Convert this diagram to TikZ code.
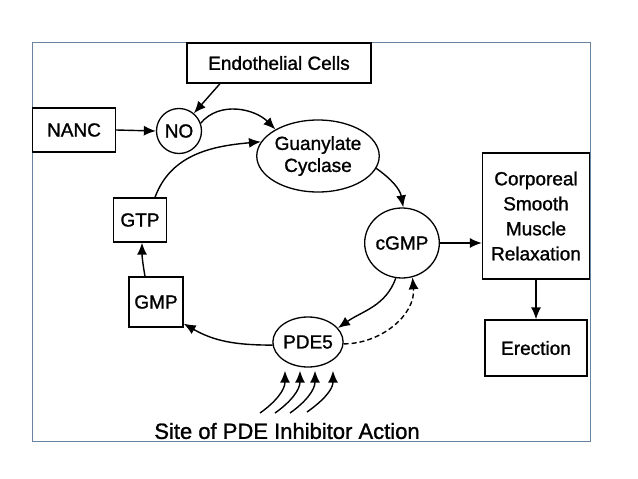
\documentclass[tikz,border=0pt]{standalone}
\usepackage{fontspec}
\setmainfont{Liberation Sans}[BoldFont=Liberation Sans, BoldFeatures={FakeBold=1.2}]
\usetikzlibrary{arrows.meta,shapes.geometric}
\definecolor{framecol}{RGB}{104,132,160}
\begin{document}
\begin{tikzpicture}[x=1pt,y=1pt,
  every node/.style={font=\fontsize{19}{22}\selectfont\bfseries, inner sep=0pt, align=center},
  rectbox/.style={draw, rectangle, line width=1.3pt},
  circnode/.style={draw, circle, line width=1.3pt},
  ellnode/.style={draw, ellipse, line width=1.3pt},
  arr/.style={line width=1.4pt, -{Latex[length=12pt,width=10pt]}},
  dasharr/.style={arr, dash pattern=on 5pt off 3pt}
]
\useasboundingbox (0,0) rectangle (638,-479);
\fill[white] (0,0) rectangle (638,-479);
\draw[framecol, line width=1pt] (32,-42) rectangle (590,-441);

\node[rectbox, minimum width=184, minimum height=40] (endo) at (279,-63) {Endothelial Cells};
\node[rectbox, minimum width=83, minimum height=44] (nanc) at (74,-130) {NANC};
\node[circnode, minimum size=45] (no) at (179,-131) {NO};
\node[ellnode, minimum width=110, minimum height=72] (gc) at (318,-156) {Guanylate\\Cyclase};
\node[rectbox, minimum width=53, minimum height=44] (gtp) at (140,-220) {GTP};
\node[rectbox, minimum width=54, minimum height=50] (gmp) at (156,-302) {GMP};
\node[ellnode, minimum width=70, minimum height=50] (pde) at (308,-342) {PDE5};
\node[ellnode, minimum width=64, minimum height=70] (cgmp) at (402,-243) {cGMP};
\node[rectbox, minimum width=107, minimum height=126, font=\fontsize{19}{25}\selectfont\bfseries] (corp) at (536,-216) {Corporeal\\Smooth\\Muscle\\Relaxation};
\node[rectbox, minimum width=102, minimum height=56] (erec) at (536,-348) {Erection};
\node[font=\fontsize{22}{26}\selectfont\bfseries] (cap) at (287,-431) {Site of PDE Inhibitor Action};

\draw[arr] ([xshift=-59pt]endo.south) -- (no.50);
\draw[arr] (nanc.east) -- (no.west);
\draw[arr] (no.20) to[out=50,in=135] (gc.148);
\draw[arr] ([xshift=15pt]gtp.north) to[out=70,in=185] (gc.166);
\draw[arr] (gc.-12) to[out=-35,in=100] (cgmp.88);
\draw[arr] (cgmp.east) -- (cgmp.east -| corp.west);
\draw[arr] (corp.south) -- (erec.north);
\draw[arr] (cgmp.-100) to[out=-110,in=35] (pde.25);
\draw[dasharr] (pde.-3) to[out=0,in=-85] (cgmp.-73);
\draw[arr] (pde.185) to[out=180,in=-30] (gmp.-38);
\draw[arr] ([xshift=-11pt]gmp.north) to[out=100,in=-90] ([xshift=2pt]gtp.south);

\coordinate (h1) at ([xshift=-23pt,yshift=-3pt]pde.south);
\coordinate (h2) at ([xshift=-8pt,yshift=-3pt]pde.south);
\coordinate (h3) at ([xshift=7pt,yshift=-3pt]pde.south);
\coordinate (h4) at ([xshift=25pt,yshift=-3pt]pde.south);
\coordinate (t1) at (260,-413);
\coordinate (t2) at (275,-413);
\coordinate (t3) at (290,-413);
\coordinate (t4) at (307,-412);
\foreach \i in {1,2,3,4}{
  \draw[arr] (t\i) to[out=35,in=-90] (h\i);
}
\end{tikzpicture}
\end{document}
